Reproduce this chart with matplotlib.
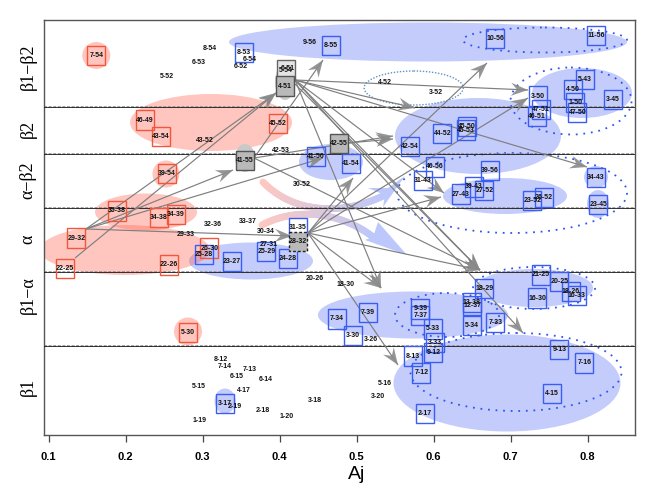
import numpy as np
import matplotlib
matplotlib.use('Agg')
import matplotlib.pyplot as plt
from matplotlib.collections import LineCollection
from matplotlib.patches import Ellipse, Rectangle, Polygon
from matplotlib.transforms import IdentityTransform

plt.rcParams['font.family'] = ['Liberation Sans', 'DejaVu Sans']

# y is only a position inside the rows, the axis has no numeric scale
row_names = ['β1−β2', 'β2', 'α−β2', 'α', 'β1−α', 'β1']
row_centres = [66.7, 129, 180, 239, 295, 387]
row_lines = [106.7, 154, 208, 272.3, 346]
x_ticks = [0.1, 0.2, 0.3, 0.4, 0.5, 0.6, 0.7, 0.8]

red_labels = ['7-54', '46-49', '43-54', '45-52', '39-54', '35-38', '34-38', '34-39',
              '29-32', '22-25', '22-26', '26-30', '5-30']
red_aj = [0.1618, 0.2247, 0.2458, 0.3978, 0.2532, 0.1883, 0.2436, 0.2653,
          0.1358, 0.1212, 0.2562, 0.3086, 0.2809]
red_y = [55.3, 120, 136.7, 123.3, 173.7, 211, 217.7, 214.3,
         238, 268.3, 265, 248, 332.7]

blue_labels = ['8-53', '41-56', '8-55', '10-56', '11-56', '5-43', '4-50', '1-50', '3-45',
               '3-50', '47-51', '46-51', '47-50', '44-52', '45-50', '45-53', '42-54',
               '41-54', '40-56', '39-56', '31-43', '34-43', '39-43', '27-43', '27-52',
               '23-52', '26-52', '23-45', '21-25', '20-25', '18-29', '16-30', '18-26',
               '16-33', '25-28', '23-27', '25-29', '24-28', '31-35', '7-34', '7-39',
               '3-30', '9-39', '7-37', '5-33', '3-33', '9-12', '8-13', '7-12', '13-38',
               '12-37', '5-34', '7-33', '9-13', '7-16', '4-15', '2-17', '3-17']
blue_aj = [0.3536, 0.4475, 0.4666, 0.6800, 0.8112, 0.7961, 0.7813, 0.7839, 0.8332,
           0.7358, 0.7390, 0.7345, 0.7865, 0.6112, 0.6436, 0.6416, 0.5688,
           0.4922, 0.6013, 0.6735, 0.5861, 0.8108, 0.6523, 0.6351, 0.6657,
           0.7281, 0.7429, 0.8138, 0.7394, 0.7631, 0.6657, 0.7345, 0.7782,
           0.7860, 0.3021, 0.3377, 0.3826, 0.4104, 0.4241, 0.4740, 0.5147,
           0.4956, 0.5826, 0.5826, 0.5987, 0.6021, 0.5995, 0.5731, 0.5839, 0.6494,
           0.6501, 0.6497, 0.6800, 0.7631, 0.7956, 0.7540, 0.5889, 0.3290]
blue_y = [52.3, 156.7, 45.3, 38.7, 35.3, 79.3, 89.3, 102.7, 99.3,
          96, 109.7, 116.7, 112.7, 133.3, 126.7, 130, 146.7,
          163.7, 167, 170.3, 180.7, 177.3, 187, 194, 190.7,
          200.7, 197.3, 204.3, 275, 281.7, 288.3, 298, 291.7,
          295.7, 254.7, 261.7, 251.3, 258.3, 227.7, 319, 312.3,
          335.7, 309, 315.7, 329, 342.3, 352.7, 356, 373, 302.3,
          305.7, 325.7, 322.3, 349.3, 363, 393.3, 413.7, 403.7]

gray_labels = ['5-54', '41-55', '4-51', '42-55', '28-32']
gray_aj = [0.4082, 0.3549, 0.4069, 0.4770, 0.4241]
gray_y = [70, 160.3, 86, 143.3, 241.3]

plain_labels = ['8-54', '6-53', '6-54', '6-52', '5-52', '6-51', '9-56', '43-52', '42-53',
                '4-52', '3-52', '32-36', '33-37', '30-34', '29-33', '30-52', '20-26',
                '18-30', '27-31', '3-26', '5-16', '3-20', '8-12', '7-14', '7-13', '6-15',
                '6-14', '5-15', '4-17', '3-18', '2-19', '2-18', '1-20', '1-19']
plain_aj = [0.3095, 0.2952, 0.3605, 0.3501, 0.2540, 0.4108, 0.4390, 0.3026, 0.4021,
            0.5367, 0.6034, 0.3138, 0.3584, 0.3818, 0.2783, 0.4286, 0.4449,
            0.4861, 0.3852, 0.5190, 0.5364, 0.5277, 0.3234, 0.3281, 0.3610, 0.3436,
            0.3813, 0.2956, 0.3536, 0.4462, 0.3416, 0.3787, 0.4091, 0.2965]
plain_y = [49, 62.7, 59.3, 66, 76, 69, 42.3, 140, 150.3,
           82.7, 92.7, 224.7, 221.3, 231.3, 234.7, 184, 278.7,
           285, 244.7, 339.3, 383.3, 396.7, 359.7, 366.3, 369.7, 376.3,
           379.7, 386.7, 390, 400.3, 407, 410.3, 417, 420.3]

# clusters: centre and size
blue_cx = [0.5926, 0.7926, 0.6575, 0.4666, 0.6926, 0.8108, 0.8134, 0.3290, 0.3627, 0.7303, 0.5731, 0.6952]
blue_cy = [42, 93, 136, 162, 196, 177, 204, 401, 261, 288, 315, 383]
blue_w = [0.5169, 0.1299, 0.2156, 0.0831, 0.1610, 0.0312, 0.0286, 0.0273, 0.1610, 0.1532, 0.2468, 0.2948]
blue_h = [39, 50, 76, 36, 36, 22, 28, 25, 37, 38, 47, 97]

red_cx = [0.1618, 0.3108, 0.2523, 0.2264, 0.1991, 0.2809]
red_cy = [55.5, 122.5, 174, 212, 250, 331.5]
red_w = [0.0364, 0.2104, 0.0351, 0.1325, 0.2208, 0.0364]
red_h = [27, 57, 27, 37, 50, 28]

dot_cx = [0.7445, 0.7783, 0.7017, 0.7303, 0.6173, 0.7069]
dot_cy = [40, 101, 193, 288, 315, 372]
dot_w = [0.2130, 0.1571, 0.2987, 0.1584, 0.1351, 0.2740]
dot_h = [25, 67, 80, 42, 44, 78]

blob_cx = [0.4069, 0.3549]
blob_cy = [82, 158]
blob_w = [0.0260, 0.0260]
blob_h = [36, 28]

# gray arrows
arrow_x0 = [0.1484, 0.1342, 0.1484, 0.1484, 0.1484,
            0.3666, 0.3666, 0.4888, 0.3666,
            0.4199, 0.4199, 0.4199, 0.4199, 0.4199, 0.4199, 0.4199, 0.4199,
            0.4368, 0.4368, 0.4368, 0.4368, 0.4368, 0.4368, 0.4368]
arrow_y0 = [229, 258, 229, 229, 229,
            158, 158, 143, 158,
            80, 80, 80, 80, 80, 84, 80, 80,
            233, 233, 233, 233, 233, 233, 233]
arrow_x1 = [0.3952, 0.3952, 0.3394, 0.4562, 0.4160,
            0.4562, 0.5471, 0.5471, 0.6601,
            0.7225, 0.7991, 0.5757, 0.6134, 0.6601, 0.6601, 0.7160, 0.5316,
            0.4952, 0.6095, 0.6601, 0.5316, 0.5536, 0.7225, 0.6692]
arrow_y1 = [93, 93, 170, 158, 236,
            60, 136, 139, 270,
            90, 167, 108, 193, 270, 270, 333, 288,
            178, 197, 270, 288, 365, 98, 63]

# wide faded arcs: bezier control points and their heads
arc1_x = [0.3783, 0.4197, 0.4848, 0.5367]
arc1_y = [182, 215, 215, 195]
arc2_x = [0.3770, 0.4264, 0.4848, 0.5212]
arc2_y = [225, 205, 215, 237]
head1_x = [0.5147, 0.5406, 0.5627, 0.5342, 0.5367]
head1_y = [188, 188, 176, 207, 195]
head2_x = [0.5277, 0.5653, 0.5108, 0.5212]
head2_y = [222, 255, 240, 237]

BLUE_FILL = (84 / 255, 109 / 255, 244 / 255, 0.35)
RED_FILL = (255 / 255, 92 / 255, 72 / 255, 0.35)
BLUE_EDGE = '#3a5ef5'
RED_EDGE = '#f4563c'
BOX_W = 0.0236
BOX_H = 19.5
TEXT_SIZE = 5.0


def add_boxes(ax, labels, xs, ys, edge, face='none', lw=1.0, ls='-'):
    for lab, x, y in zip(labels, xs, ys):
        ax.add_patch(Rectangle((x - BOX_W / 2, y - BOX_H / 2), BOX_W, BOX_H, facecolor=face,
                               edgecolor=edge, lw=lw, ls=ls, zorder=4))
        ax.text(x, y, lab, fontsize=TEXT_SIZE, fontweight='bold', ha='center', va='center',
                color='#111111', zorder=5)


def add_ellipses(ax, xs, ys, ws, hs, **kw):
    for x, y, w, h in zip(xs, ys, ws, hs):
        ax.add_patch(Ellipse((x, y), w, h, **kw))


def add_arrow(ax, x0, y0, x1, y1):
    # line plus a swept back head, head size is in pixels
    ax.plot([x0, x1], [y0, y1], color='#7f7f7f', lw=0.85, zorder=3, solid_capstyle='butt')
    p0, p1 = ax.transData.transform([(x0, y0), (x1, y1)])
    d = (p1 - p0) / np.hypot(*(p1 - p0))
    n = np.array([-d[1], d[0]])
    pts = [p1, p1 - 17 * d + 6.5 * n, p1 - 11 * d, p1 - 17 * d - 6.5 * n]
    ax.add_patch(Polygon(pts, closed=True, facecolor='#8a8a8a', edgecolor='none', alpha=0.9,
                         transform=IdentityTransform(), zorder=3))


def add_arc(ax, xs, ys, lw):
    t = np.linspace(0, 1, 60)
    ctrl = ax.transData.transform(np.column_stack([xs, ys]))
    pts = ((1 - t) ** 3)[:, None] * ctrl[0] + (3 * t * (1 - t) ** 2)[:, None] * ctrl[1] \
        + (3 * t ** 2 * (1 - t))[:, None] * ctrl[2] + (t ** 3)[:, None] * ctrl[3]
    segs = np.stack([pts[:-1], pts[1:]], axis=1)
    start = np.array([255, 200, 192]) / 255
    end = np.array([188, 200, 251]) / 255
    cols = [start + (end - start) * v for v in t[:-1]]
    ax.add_collection(LineCollection(segs, colors=cols, linewidths=lw, capstyle='round',
                                     transform=IdentityTransform(), zorder=1.5))


fig = plt.figure(figsize=(6.51, 4.91), dpi=100)
ax = fig.add_axes([43.7 / 651, (491 - 435.3) / 491, (635.3 - 43.7) / 651, (435.3 - 19.7) / 491])
ax.set_xlim(0.0935, 0.8618)
ax.set_ylim(435.3, 19.7)

add_ellipses(ax, blue_cx, blue_cy, blue_w, blue_h, facecolor=BLUE_FILL, edgecolor='none', zorder=1)
add_ellipses(ax, red_cx, red_cy, red_w, red_h, facecolor=RED_FILL, edgecolor='none', zorder=1)
add_ellipses(ax, blob_cx, blob_cy, blob_w, blob_h, facecolor='#c9c9c9', edgecolor='none', zorder=1)
add_ellipses(ax, dot_cx, dot_cy, dot_w, dot_h, facecolor='none', edgecolor='#2f55f2', lw=1.3,
             ls=(0, (1, 3.2)), zorder=2)
add_ellipses(ax, [0.574], [88], [0.1286], [34], facecolor='none', edgecolor='#5f93c4', lw=1.0,
             ls=(0, (1, 1.2)), zorder=2)

add_arc(ax, arc1_x, arc1_y, 5.0)
add_arc(ax, arc2_x, arc2_y, 5.0)
ax.fill(head1_x, head1_y, color='#bcc8fb', lw=0, zorder=1.6)
ax.fill(head2_x, head2_y, color='#bcc8fb', lw=0, zorder=1.6)

for y in row_lines:
    ax.axhline(y, color='#8a8a8a', lw=1.1, ls=(0, (2, 1)), zorder=2.5)
    ax.axhline(y, color='#1a1a1a', lw=0.6, zorder=2.6)

for x0, y0, x1, y1 in zip(arrow_x0, arrow_y0, arrow_x1, arrow_y1):
    add_arrow(ax, x0, y0, x1, y1)

add_boxes(ax, red_labels, red_aj, red_y, RED_EDGE)
add_boxes(ax, blue_labels, blue_aj, blue_y, BLUE_EDGE)
add_boxes(ax, gray_labels[:1], gray_aj[:1], gray_y[:1], '#666666', face='#e4e4e4')
add_boxes(ax, gray_labels[1:4], gray_aj[1:4], gray_y[1:4], '#555555', face='#b9b9b9', lw=1.0)
add_boxes(ax, gray_labels[4:], gray_aj[4:], gray_y[4:], '#222222', face='#b9b9b9', lw=1.0, ls=(0, (2, 1.5)))

for lab, x, y in zip(plain_labels, plain_aj, plain_y):
    ax.text(x, y, lab, fontsize=TEXT_SIZE, fontweight='bold', ha='center', va='center',
            color='#111111', zorder=5)

ax.set_xticks(x_ticks)
ax.set_xticklabels([f'{v:.1f}' for v in x_ticks], fontsize=8, fontweight='bold')
ax.tick_params(axis='x', length=5, width=0.9, color='#444444', pad=7)
ax.set_yticks(row_centres)
ax.set_yticklabels(row_names, rotation=90, va='center', fontsize=13, family='Liberation Serif')
ax.tick_params(axis='y', length=0, pad=5)
ax.set_xlabel('Aj', fontsize=14, labelpad=3, x=0.5296)
for s in ax.spines.values():
    s.set_color('#555555')
    s.set_linewidth(1.0)

fig.savefig('out.png', dpi=100)
